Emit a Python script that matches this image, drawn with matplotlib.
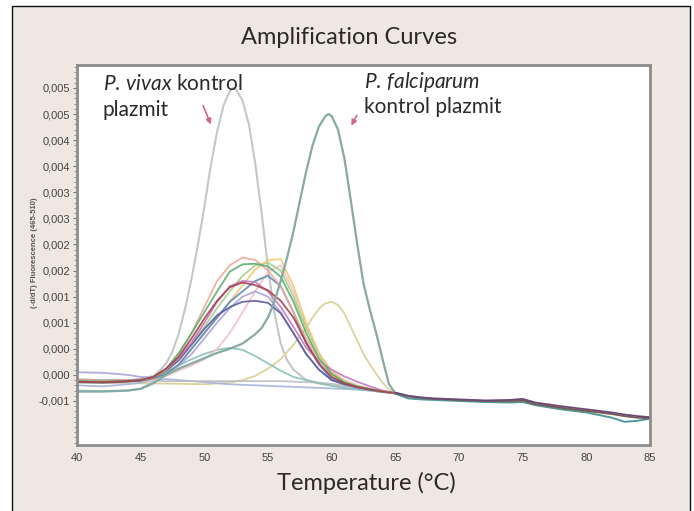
import matplotlib
matplotlib.use("Agg")
import matplotlib.pyplot as plt
from matplotlib.patches import Rectangle
from matplotlib.ticker import MultipleLocator

plt.rcParams['font.family'] = ['Lato', 'DejaVu Sans']
plt.rcParams['mathtext.fontset'] = 'custom'
plt.rcParams['mathtext.rm'] = 'Lato'
plt.rcParams['mathtext.it'] = 'Lato:italic'

# ---------------- data ----------------
title = "Amplification Curves"
xlabel = "Temperature (°C)"
ylabel = "(-d/dT) Fluorescence (465-510)"

x_ticks = [40, 45, 50, 55, 60, 65, 70, 75, 80, 85]
y_ticks = [-0.0005, 0.0, 0.0005, 0.001, 0.0015, 0.002, 0.0025, 0.003, 0.0035, 0.004, 0.0045, 0.005, 0.0055]
y_tick_labels = ['-0,001', '0,000', '0,000', '0,001', '0,001', '0,002', '0,002',
                 '0,003', '0,003', '0,004', '0,004', '0,005', '0,005']

# common grid for the cluster curves (40-65 °C)
x_main = [40, 42, 44, 45, 46, 47, 48, 49, 50, 51, 52, 53, 54, 55, 56, 57, 58, 59, 60, 61, 62, 63, 64, 65]

salmon = [-0.00010, -0.00012, -0.00010, -0.00010, -0.00005, 0.00010, 0.00040, 0.00080, 0.00130, 0.00180, 0.00210, 0.00225,
          0.00220, 0.00200, 0.00170, 0.00120, 0.00070, 0.00030, 0.00000, -0.00015, -0.00022, -0.00027, -0.00032, -0.00035]
green = [-0.00012, -0.00013, -0.00011, -0.00010, -0.00004, 0.00012, 0.00042, 0.00080, 0.00120, 0.00160, 0.00198, 0.00212,
         0.00213, 0.00208, 0.00188, 0.00140, 0.00080, 0.00032, 0.00002, -0.00014, -0.00022, -0.00027, -0.00032, -0.00035]
lightgreen = [-0.00008, -0.00010, -0.00010, -0.00009, -0.00006, 0.00005, 0.00030, 0.00060, 0.00092, 0.00128, 0.00160, 0.00190,
              0.00210, 0.00215, 0.00200, 0.00150, 0.00090, 0.00040, 0.00005, -0.00013, -0.00022, -0.00027, -0.00032, -0.00035]
yellow = [-0.00011, -0.00012, -0.00011, -0.00011, -0.00008, 0.00000, 0.00020, 0.00050, 0.00080, 0.00110, 0.00140, 0.00172,
          0.00202, 0.00220, 0.00222, 0.00170, 0.00100, 0.00042, 0.00006, -0.00012, -0.00021, -0.00027, -0.00032, -0.00035]
darkred = [-0.00013, -0.00014, -0.00012, -0.00010, -0.00004, 0.00012, 0.00035, 0.00070, 0.00108, 0.00142, 0.00168, 0.00177,
           0.00172, 0.00162, 0.00142, 0.00110, 0.00062, 0.00022, -0.00004, -0.00016, -0.00023, -0.00028, -0.00032, -0.00035]
magenta = [-0.00010, -0.00011, -0.00010, -0.00009, -0.00004, 0.00010, 0.00032, 0.00062, 0.00100, 0.00140, 0.00170, 0.00180,
           0.00178, 0.00160, 0.00130, 0.00092, 0.00052, 0.00026, 0.00010, -0.00003, -0.00013, -0.00022, -0.00030, -0.00035]
navy = [-0.00014, -0.00015, -0.00013, -0.00011, -0.00005, 0.00008, 0.00028, 0.00058, 0.00088, 0.00114, 0.00130, 0.00140,
        0.00142, 0.00138, 0.00118, 0.00080, 0.00040, 0.00010, -0.00010, -0.00018, -0.00024, -0.00028, -0.00032, -0.00035]
lavender = [0.00005, 0.00004, 0.00000, -0.00004, -0.00005, 0.00000, 0.00018, 0.00040, 0.00070, 0.00100, 0.00128, 0.00150,
            0.00160, 0.00150, 0.00120, 0.00080, 0.00040, 0.00010, -0.00010, -0.00018, -0.00024, -0.00028, -0.00032, -0.00035]
pink = [-0.00010, -0.00011, -0.00010, -0.00010, -0.00010, -0.00002, 0.00008, 0.00018, 0.00030, 0.00050, 0.00080, 0.00120,
        0.00160, 0.00198, 0.00210, 0.00160, 0.00092, 0.00040, 0.00008, -0.00010, -0.00020, -0.00027, -0.00032, -0.00035]
steelblue = [-0.00012, -0.00013, -0.00012, -0.00011, -0.00007, 0.00002, 0.00020, 0.00050, 0.00080, 0.00110, 0.00140, 0.00160,
             0.00180, 0.00190, 0.00170, 0.00120, 0.00060, 0.00020, -0.00008, -0.00017, -0.00023, -0.00028, -0.00032, -0.00035]
teal_hump = [-0.00030, -0.00031, -0.00030, -0.00026, -0.00014, 0.00005, 0.00018, 0.00030, 0.00040, 0.00048, 0.00052, 0.00048,
             0.00036, 0.00022, 0.00008, -0.00004, -0.00010, -0.00016, -0.00021, -0.00025, -0.00028, -0.00030, -0.00033, -0.00035]
flat_gray = [-0.00010, -0.00010, -0.00011, -0.00011, -0.00011, -0.00012, -0.00012, -0.00012, -0.00012, -0.00012, -0.00012, -0.00012,
             -0.00012, -0.00012, -0.00012, -0.00013, -0.00014, -0.00015, -0.00017, -0.00020, -0.00025, -0.00029, -0.00033, -0.00035]
lav_low = [-0.00020, -0.00022, -0.00018, -0.00015, -0.00010, -0.00008, -0.00010, -0.00012, -0.00014, -0.00016, -0.00018, -0.00019,
           -0.00020, -0.00021, -0.00022, -0.00023, -0.00024, -0.00025, -0.00026, -0.00027, -0.00028, -0.00030, -0.00033, -0.00035]

# P. vivax control plasmid
vivax_x = [40, 42, 44, 45, 46, 46.5, 47, 47.5, 48, 48.5, 49, 49.5, 50, 50.5, 51, 51.5, 52, 52.25, 52.5, 53, 53.5,
           54, 54.5, 55, 55.5, 56, 56.5, 57, 58, 59, 60, 62, 64, 65]
vivax_y = [-0.00012, -0.00010, -0.00010, -0.00008, -0.00002, 0.00008, 0.00022, 0.00045, 0.00080, 0.00128, 0.00185, 0.00250,
           0.00322, 0.00400, 0.00466, 0.00516, 0.00544, 0.00550, 0.00547, 0.00526, 0.00480, 0.00405, 0.00310, 0.00205,
           0.00120, 0.00060, 0.00028, 0.00010, -0.00010, -0.00016, -0.00020, -0.00026, -0.00032, -0.00035]

# P. falciparum control plasmid
falc_x = [40, 42, 44, 45, 46, 47, 48, 49, 50, 51, 52, 53, 54, 54.5, 55, 55.5, 56, 56.5, 57, 57.5, 58, 58.5,
          59, 59.5, 59.75, 60, 60.5, 61, 61.5, 62, 62.5, 63, 63.5, 64, 64.5, 65]
falc_y = [-0.00032, -0.00032, -0.00030, -0.00027, -0.00016, 0.00000, 0.00012, 0.00022, 0.00032, 0.00042, 0.00050, 0.00060,
          0.00078, 0.00090, 0.00110, 0.00140, 0.00180, 0.00225, 0.00275, 0.00333, 0.00390, 0.00440, 0.00476, 0.00496,
          0.00500, 0.00496, 0.00470, 0.00415, 0.00335, 0.00252, 0.00175, 0.00125, 0.00080, 0.00030, -0.00018, -0.00035]

# late khaki curve
khaki_x = [40, 44, 48, 50, 52, 53, 54, 55, 56, 57, 58, 58.5, 59, 59.5, 60, 60.5, 61, 61.5, 62, 62.5, 63, 63.5, 64, 64.5, 65]
khaki_y = [-0.00015, -0.00016, -0.00017, -0.00018, -0.00015, -0.00010, -0.00002, 0.00012, 0.00030, 0.00058, 0.00090, 0.00110,
           0.00127, 0.00137, 0.00140, 0.00134, 0.00118, 0.00092, 0.00066, 0.00040, 0.00020, 0.00002, -0.00015, -0.00028, -0.00035]

# common melt tail (65-85 °C)
tail_x = [65, 66, 67, 68, 70, 72, 74, 75, 76, 78, 80, 82, 83, 84, 85]
tail_teal = [-0.00036, -0.00045, -0.00047, -0.00048, -0.00050, -0.00052, -0.00053, -0.00052, -0.00058, -0.00066,
             -0.00072, -0.00082, -0.00090, -0.00088, -0.00084]
tail_brown = [-0.00035, -0.00041, -0.00044, -0.00046, -0.00048, -0.00050, -0.00050, -0.00049, -0.00056, -0.00063,
              -0.00069, -0.00075, -0.00079, -0.00082, -0.00083]
tail_purple = [-0.00034, -0.00040, -0.00043, -0.00045, -0.00047, -0.00049, -0.00048, -0.00046, -0.00053, -0.00060,
               -0.00066, -0.00072, -0.00076, -0.00079, -0.00081]

# ---------------- figure ----------------
fig = plt.figure(figsize=(6.94, 5.11), dpi=100)
fig.patch.set_facecolor('white')
frame = Rectangle((12 / 694, -0.05), (690 - 12) / 694, 1.05 - 6 / 511,
                  transform=fig.transFigure, facecolor='#efe8e2',
                  edgecolor='#111111', linewidth=1.0, zorder=-10)
fig.add_artist(frame)

ax = fig.add_axes([77 / 694, 1 - 445 / 511, (650 - 77) / 694, (445 - 65) / 511])
ax.set_zorder(1)
ax.set_facecolor('white')
ax.set_xlim(40, 85)
ax.set_ylim(-0.001344, 0.00594)

lw = 1.3
cluster = [
    (lav_low, '#aab2dc'), (flat_gray, '#bdbdc2'), (teal_hump, '#88c2b6'),
    (pink, '#f4c2c6'), (lavender, '#aaa2da'), (lightgreen, '#a8d08a'),
    (yellow, '#f2c878'), (steelblue, '#5a8aba'), (navy, '#5a5c9c'),
    (magenta, '#c47ac0'), (salmon, '#f0a898'), (green, '#58b070'), (darkred, '#a8404c'),
]
ax.plot(vivax_x, vivax_y, color='#c6c6ca', lw=1.5, solid_joinstyle='round')
ax.plot(khaki_x, khaki_y, color='#ddd39a', lw=lw)
for ys, c in cluster:
    ax.plot(x_main, ys, color=c, lw=lw, alpha=0.9, solid_joinstyle='round')
ax.plot(falc_x, falc_y, color='#86aaa4', lw=1.6, solid_joinstyle='round')
ax.plot(tail_x, tail_teal, color='#4f9a98', lw=1.4)
ax.plot(tail_x, tail_brown, color='#7a5a50', lw=1.4)
ax.plot(tail_x, tail_purple, color='#6a4a78', lw=1.3)

# ticks
ax.set_xticks(x_ticks)
ax.set_xticklabels([str(t) for t in x_ticks], fontfamily='Liberation Sans', fontsize=8, color='#444444')
ax.set_yticks(y_ticks)
ax.set_yticklabels(y_tick_labels, fontfamily='Liberation Sans', fontsize=8, color='#444444')
ax.yaxis.set_minor_locator(MultipleLocator(0.0001))
ax.tick_params(axis='x', length=0, pad=6)
ax.tick_params(axis='y', which='major', length=3, width=0.8, color='#777777', pad=2)
ax.tick_params(axis='y', which='minor', length=2, width=0.6, color='#888888')
for s in ax.spines.values():
    s.set_color('#8c8c8c')
    s.set_linewidth(2.0)

# annotations
fs_ann = 15
txt_color = '#2a2a2a'
ax.text(42.04, 0.00558, r"$\mathit{P.\,vivax}$ kontrol", fontsize=fs_ann, color=txt_color, va='center', ha='left')
ax.text(42.04, 0.00508, "plazmit", fontsize=fs_ann, color=txt_color, va='center', ha='left')
ax.text(62.54, 0.00562, r"$\mathit{P.\,falciparum}$", fontsize=fs_ann, color=txt_color, va='center', ha='left')
ax.text(62.54, 0.00514, "kontrol plazmit", fontsize=fs_ann, color=txt_color, va='center', ha='left')
ax.annotate("", xy=(50.60, 0.00475), xytext=(49.82, 0.00521),
            arrowprops=dict(arrowstyle='-|>', color='#d06a84', lw=1.2, mutation_scale=8))
ax.annotate("", xy=(61.44, 0.00473), xytext=(62.07, 0.00502),
            arrowprops=dict(arrowstyle='-|>', color='#d06a84', lw=1.2, mutation_scale=8))

fig.text(349 / 694, 1 - 37 / 511, title, fontsize=17, color=txt_color, ha='center', va='center')
fig.text(366 / 694, 1 - 483 / 511, xlabel, fontsize=17, color=txt_color, ha='center', va='center')
fig.text(35 / 694, 1 - 253 / 511, ylabel, fontsize=5.5, fontweight='bold', color='#555555',
         ha='center', va='center', rotation=90, fontfamily='Liberation Sans')

fig.savefig("out.png", dpi=100)
